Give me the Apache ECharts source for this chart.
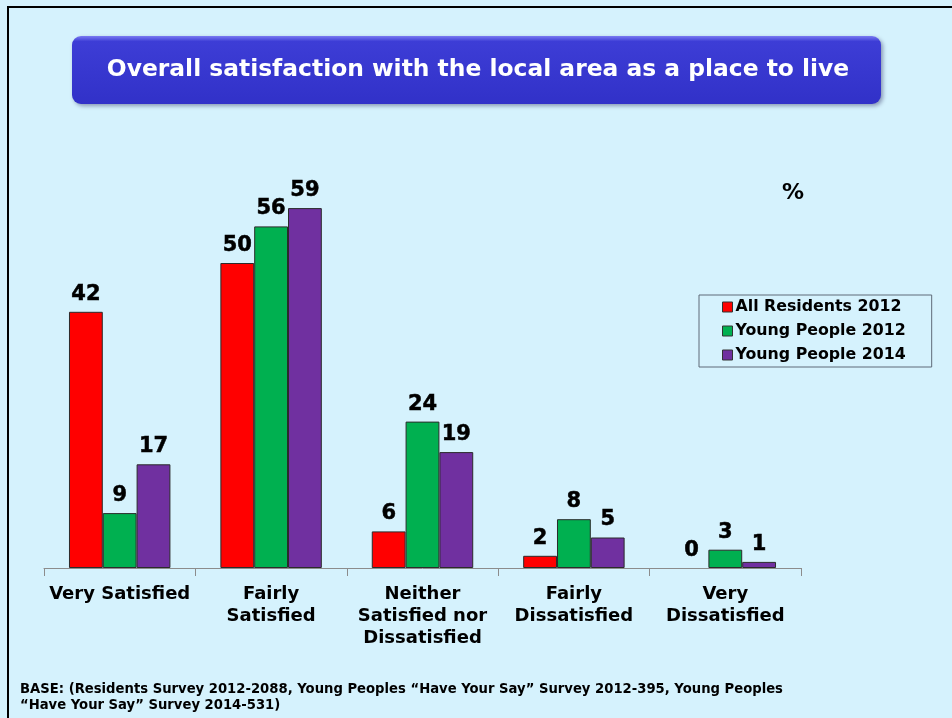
<!DOCTYPE html>
<html>
<head>
<meta charset="utf-8">
<script src="https://cdn.jsdelivr.net/npm/echarts@6/dist/echarts.min.js"></script>
<style>
  html, body { margin: 0; padding: 0; background: #d5f2fd; }
  #main { width: 952px; height: 718px; }
</style>
</head>
<body>
<div id="main"></div>
<script>
// categories and values
var categories = ['Very Satisfied', 'Fairly\nSatisfied', 'Neither\nSatisfied nor\nDissatisfied', 'Fairly\nDissatisfied', 'Very\nDissatisfied'];
var seriesNames = ['All Residents 2012', 'Young People 2012', 'Young People 2014'];
var allResidents2012 = [42, 50, 6, 2, 0];
var youngPeople2012 = [9, 56, 24, 8, 3];
var youngPeople2014 = [17, 59, 19, 5, 1];
var colors = ['#ff0000', '#00b050', '#7030a0'];

var chartTitle = 'Overall satisfaction with the local area as a place to live';
var baseNote = 'BASE: (Residents Survey 2012-2088, Young Peoples \u201CHave Your Say\u201D Survey 2012-395, Young Peoples\n\u201CHave Your Say\u201D Survey 2014-531)';

var font = '"DejaVu Sans", Verdana, sans-serif';
var myChart = echarts.init(document.getElementById('main'));

function makeSeries(name, data, color) {
    return {
        name: name,
        type: 'bar',
        // zero bars get no outline, so only the label shows
        data: data.map(function(v) {
            return v === 0 ? { value: v, itemStyle: { borderWidth: 0 } } : v;
        }),
        barGap: '0%',
        barCategoryGap: '33%',
        itemStyle: {
            color: color,
            borderColor: '#2b2b2b',
            borderWidth: 1
        },
        label: {
            show: true,
            position: 'top',
            distance: 7,
            color: '#000',
            fontFamily: font,
            fontWeight: 'bold',
            fontSize: 21,
            textBorderColor: '#000',
            textBorderWidth: 0.5
        }
    };
}

var option = {
    backgroundColor: '#d5f2fd',
    animation: false,
    color: colors,
    graphic: [
        // outer frame (top and left edges visible)
        { type: 'line', shape: { x1: 7, y1: 7, x2: 952, y2: 7 }, style: { stroke: '#000', lineWidth: 2 } },
        { type: 'line', shape: { x1: 8, y1: 6, x2: 8, y2: 718 }, style: { stroke: '#000', lineWidth: 2 } },
        // title banner
        {
            type: 'rect',
            shape: { x: 72, y: 36, width: 809, height: 68, r: 9 },
            style: {
                fill: new echarts.graphic.LinearGradient(0, 0, 0, 1, [
                    { offset: 0, color: '#7a7af2' },
                    { offset: 0.08, color: '#3d3dd6' },
                    { offset: 1, color: '#3131c8' }
                ]),
                shadowBlur: 4,
                shadowOffsetX: 2,
                shadowOffsetY: 2,
                shadowColor: 'rgba(40,40,90,0.45)'
            }
        },
        {
            type: 'text',
            x: 478,
            y: 70,
            style: {
                text: chartTitle,
                fill: '#fff',
                font: 'bold 23.4px ' + font,
                align: 'center',
                verticalAlign: 'middle'
            }
        },
        {
            type: 'text',
            x: 793,
            y: 193,
            style: {
                text: '%',
                fill: '#000',
                font: 'bold 22px ' + font,
                align: 'center',
                verticalAlign: 'middle'
            }
        },
        {
            type: 'text',
            left: 20,
            top: 682,
            style: {
                text: baseNote,
                fill: '#000',
                font: 'bold 13.2px ' + font,
                lineHeight: 16
            }
        }
    ],
    legend: {
        orient: 'vertical',
        left: 699,
        top: 295,
        data: seriesNames,
        icon: 'rect',
        itemWidth: 10,
        itemHeight: 10,
        itemGap: 8,
        padding: [4, 26, 4, 23],
        borderColor: '#5f6b78',
        borderWidth: 1,
        borderRadius: 0,
        itemStyle: { borderColor: '#333', borderWidth: 1 },
        textStyle: {
            color: '#000',
            fontFamily: font,
            fontWeight: 'bold',
            fontSize: 15.8,
            padding: [0, 0, 0, -2]
        }
    },
    grid: {
        left: 44,
        right: 151,
        top: 202,
        bottom: 150,
        containLabel: false
    },
    xAxis: {
        type: 'category',
        data: categories,
        axisLine: { lineStyle: { color: '#8c8c8c', width: 1 } },
        axisTick: { show: true, length: 8, alignWithLabel: false, lineStyle: { color: '#8c8c8c' } },
        axisLabel: {
            interval: 0,
            margin: 15,
            color: '#000',
            fontFamily: font,
            fontWeight: 'bold',
            fontSize: 18,
            lineHeight: 22
        }
    },
    yAxis: {
        type: 'value',
        min: 0,
        max: 60,
        show: false,
        splitLine: { show: false }
    },
    series: [
        makeSeries(seriesNames[0], allResidents2012, colors[0]),
        makeSeries(seriesNames[1], youngPeople2012, colors[1]),
        makeSeries(seriesNames[2], youngPeople2014, colors[2])
    ]
};

myChart.setOption(option);
</script>
</body>
</html>
